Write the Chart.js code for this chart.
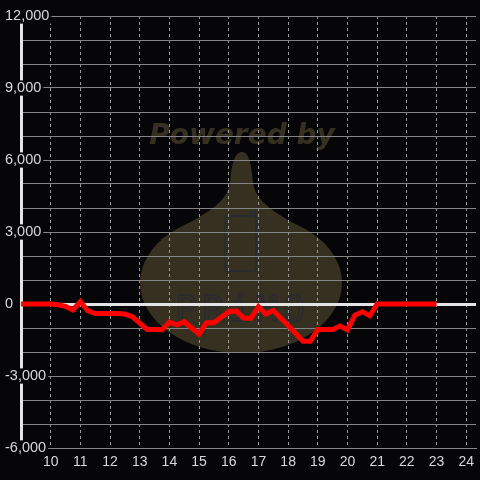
<!DOCTYPE html>
<html>
<head>
<meta charset="utf-8">
<script src="https://cdn.jsdelivr.net/npm/chart.js@4/dist/chart.umd.min.js"></script>
<style>
  html, body { margin: 0; padding: 0; background: #060608; }
  canvas { display: block; }
</style>
</head>
<body>
<canvas id="chart" width="480" height="480"></canvas>
<script>
// hour of day (x) and running balance (y)
const hours = [9, 9.25, 9.5, 9.75, 10, 10.25, 10.5, 10.75, 11, 11.25, 11.5, 11.75,
    12, 12.25, 12.5, 12.75, 13, 13.25, 13.5, 13.75, 14, 14.25, 14.5, 14.75,
    15, 15.25, 15.5, 15.75, 16, 16.25, 16.5, 16.75, 17, 17.25, 17.5, 17.75,
    18, 18.25, 18.5, 18.75, 19, 19.25, 19.5, 19.75, 20, 20.25, 20.5, 20.75,
    21, 21.25, 21.5, 21.75, 22, 22.25, 22.5, 22.75, 23];
const balance = [0, 0, 0, 0, 0, -30, -100, -250, 100, -280, -400, -400,
    -400, -400, -420, -530, -800, -1060, -1060, -1070, -760, -870, -740, -1000,
    -1250, -780, -780, -550, -320, -290, -580, -590, -110, -420, -270, -580,
    -900, -1220, -1550, -1550, -1060, -1060, -1060, -920, -1080, -460, -320, -490,
    0, 0, 0, 0, 0, 0, 0, 0, 0];

const xMin = 9, xMax = 24.33;
const yMin = -6000, yMax = 12000;
const yLabelStep = 3000;

const BG = '#060608';
const GRID = '#858585';
const TEXT = '#d8d8d8';

// faint "Powered by" logo behind the grid
const watermark = {
    id: 'watermark',
    beforeDraw(chart) {
        const ctx = chart.ctx;
        ctx.save();
        ctx.fillStyle = BG;
        ctx.fillRect(0, 0, chart.width, chart.height);

        ctx.fillStyle = '#363020';
        ctx.beginPath();
        ctx.ellipse(241, 283, 101, 70, 0, 0, Math.PI * 2);
        ctx.fill();
        ctx.beginPath();
        ctx.moveTo(242, 152);
        ctx.bezierCurveTo(248, 152, 251, 160, 253, 182);
        ctx.bezierCurveTo(256, 207, 285, 216, 320, 240);
        ctx.lineTo(160, 240);
        ctx.bezierCurveTo(198, 216, 227, 207, 230, 182);
        ctx.bezierCurveTo(232, 160, 236, 152, 242, 152);
        ctx.fill();

        ctx.strokeStyle = '#2a2a31';
        ctx.lineWidth = 2;
        ctx.beginPath();
        ctx.roundRect(225, 216, 31, 55, 3);
        ctx.stroke();
        ctx.beginPath();
        ctx.moveTo(250, 216);
        ctx.lineTo(250, 212);
        ctx.lineTo(255, 212);
        ctx.lineTo(255, 218);
        ctx.stroke();

        ctx.lineWidth = 1.5;
        ctx.font = '36px "DejaVu Sans Mono"';
        ctx.textAlign = 'center';
        ctx.textBaseline = 'alphabetic';
        ['P', 'R', 'i', 'M', 'O'].forEach((ch, i) => {
            ctx.strokeText(ch, 186 + i * 27, 321);
        });

        ctx.fillStyle = '#363020';
        ctx.font = 'italic bold 28px "DejaVu Sans"';
        ctx.fillText('Powered by', 242, 144);
        ctx.restore();
    }
};

new Chart(document.getElementById('chart'), {
    type: 'line',
    data: {
        datasets: [{
            data: hours.map((h, i) => ({ x: h, y: balance[i] })),
            borderColor: '#ff0000',
            borderWidth: 5,
            pointRadius: 0,
            tension: 0,
            fill: false
        }]
    },
    options: {
        responsive: false,
        animation: false,
        devicePixelRatio: 1,
        layout: { padding: { left: 6, top: 16, right: 0, bottom: 0 } },
        plugins: {
            legend: { display: false },
            tooltip: { enabled: false }
        },
        scales: {
            x: {
                type: 'linear',
                min: xMin,
                max: xMax,
                afterFit: s => { s.height = 32; },
                grid: { color: '#9a9a9a', lineWidth: 1, drawTicks: false },
                border: { color: GRID, width: 1, dash: [3, 3] },
                ticks: {
                    stepSize: 1,
                    includeBounds: false,
                    padding: 6,
                    color: TEXT,
                    font: { family: '"Liberation Sans", Arial, sans-serif', size: 14 },
                    maxRotation: 0,
                    autoSkip: false,
                    callback: v => (v > xMin && Number.isInteger(v)) ? String(v) : ''
                }
            },
            y: {
                min: yMin,
                max: yMax,
                afterFit: s => { s.width = 15; },
                grid: {
                    drawTicks: false,
                    color: ctx => ctx.tick.value === 0 ? '#e4e4e4' : GRID,
                    lineWidth: ctx => ctx.tick.value === 0 ? 3 : 1
                },
                border: { color: '#e4e4e4', width: 3 },
                ticks: {
                    stepSize: 1000,
                    mirror: true,
                    padding: -16,
                    color: TEXT,
                    font: { family: '"Liberation Sans", Arial, sans-serif', size: 14.5, lineHeight: 1.05 },
                    showLabelBackdrop: true,
                    backdropColor: ctx => ctx.tick.value % yLabelStep === 0 ? BG : 'rgba(0,0,0,0)',
                    backdropPadding: { top: 0, bottom: 0, left: 2, right: 2 },
                    autoSkip: false,
                    callback: v => v % yLabelStep === 0 ? v.toLocaleString('en-US') : ''
                }
            }
        }
    },
    plugins: [watermark]
});
</script>
</body>
</html>
